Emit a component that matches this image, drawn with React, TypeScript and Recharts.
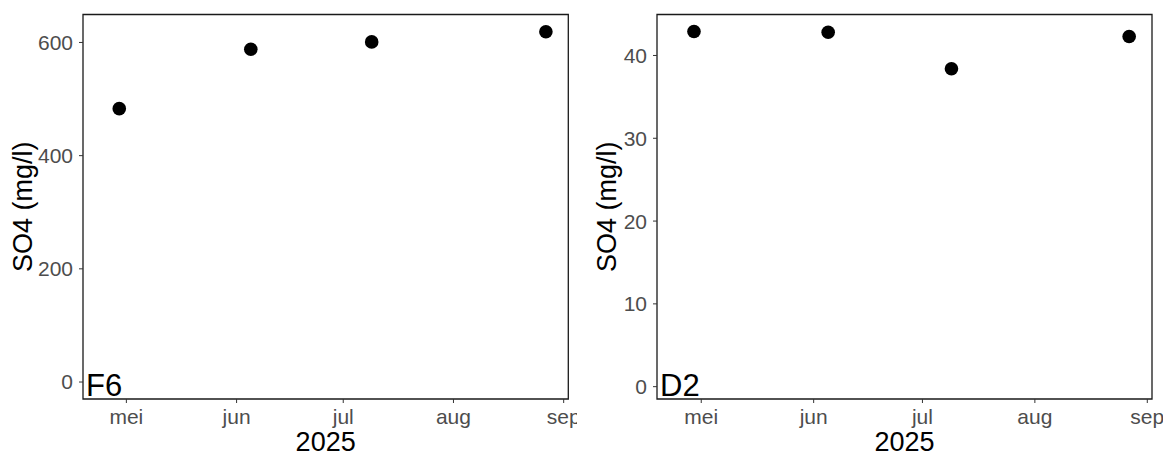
import React from "react";
import {
  ScatterChart,
  Scatter,
  XAxis,
  YAxis,
  ReferenceArea,
} from "recharts";

// sample dates as day-of-year 2025 (29 apr, 5 jun, 9 jul, 27 aug)
const sampleDays = [119, 156, 190, 239];
const f6Values = [483, 588, 601, 619];
const d2Values = [42.9, 42.8, 38.4, 42.3];

const monthTicks = [121, 152, 182, 213, 244];
const monthLabels = ["mei", "jun", "jul", "aug", "sep"];

const f6Ticks = [0, 200, 400, 600];
const d2Ticks = [0, 10, 20, 30, 40];

const X_DOMAIN: [number, number] = [108.8, 245.3];
const FONT = "Arial, 'Liberation Sans', sans-serif";

type PanelProps = {
  name: string;
  values: number[];
  yDomain: [number, number];
  yTicks: number[];
  width: number;
  yAxisWidth: number;
  labelOffset: number;
  marginRight: number;
};

const Dot = (p: any) => <circle cx={p.cx} cy={p.cy} r={6.8} fill="#000" />;

function Panel({
  name,
  values,
  yDomain,
  yTicks,
  width,
  yAxisWidth,
  labelOffset,
  marginRight,
}: PanelProps) {
  const data = sampleDays.map((d, i) => ({ day: d, value: values[i] }));
  return (
    <ScatterChart
      width={width}
      height={457}
      margin={{ top: 14.5, right: marginRight, bottom: 28, left: 0 }}
      style={{ fontFamily: FONT }}
    >
      <XAxis
        type="number"
        dataKey="day"
        domain={X_DOMAIN}
        allowDataOverflow
        ticks={monthTicks}
        tickFormatter={(v: number) => monthLabels[monthTicks.indexOf(v)] ?? ""}
        tick={{ fill: "#4d4d4d", fontSize: 21 }}
        tickSize={4}
        tickMargin={6}
        tickLine={{ stroke: "#333" }}
        axisLine={false}
        height={30}
        interval={0}
        label={{
          value: "2025",
          position: "bottom",
          offset: 3,
          fontSize: 27,
          fill: "#000",
        }}
      />
      <YAxis
        type="number"
        dataKey="value"
        domain={yDomain}
        allowDataOverflow
        ticks={yTicks}
        tick={{ fill: "#4d4d4d", fontSize: 21 }}
        tickSize={4}
        tickMargin={6}
        tickLine={{ stroke: "#333" }}
        axisLine={false}
        width={yAxisWidth}
        interval={0}
        label={{
          value: "SO4 (mg/l)",
          angle: -90,
          position: "insideLeft",
          offset: labelOffset,
          fontSize: 27,
          fill: "#000",
          style: { textAnchor: "middle" },
        }}
      />
      <ReferenceArea
        x1={X_DOMAIN[0]}
        x2={X_DOMAIN[1]}
        y1={yDomain[0]}
        y2={yDomain[1]}
        fill="none"
        stroke="#1a1a1a"
        strokeWidth={1.3}
        ifOverflow="visible"
        label={{
          value: name,
          position: "insideBottomLeft",
          offset: 3,
          fontSize: 31,
          fill: "#000",
        }}
      />
      <Scatter data={data} shape={Dot} isAnimationActive={false} />
    </ScatterChart>
  );
}

export default function App() {
  return (
    <div
      style={{
        position: "absolute",
        left: 0,
        top: 0,
        width: 1163,
        height: 457,
        background: "#fff",
      }}
    >
      <div style={{ position: "absolute", left: 0, top: 0 }}>
        <Panel
          name="F6"
          values={f6Values}
          yDomain={[-30, 649.4]}
          yTicks={f6Ticks}
          width={577}
          yAxisWidth={83}
          labelOffset={22}
          marginRight={8.7}
        />
      </div>
      <div style={{ position: "absolute", left: 577, top: 0 }}>
        <Panel
          name="D2"
          values={d2Values}
          yDomain={[-1.49, 44.95]}
          yTicks={d2Ticks}
          width={586}
          yAxisWidth={80}
          labelOffset={29.5}
          marginRight={11}
        />
      </div>
    </div>
  );
}
